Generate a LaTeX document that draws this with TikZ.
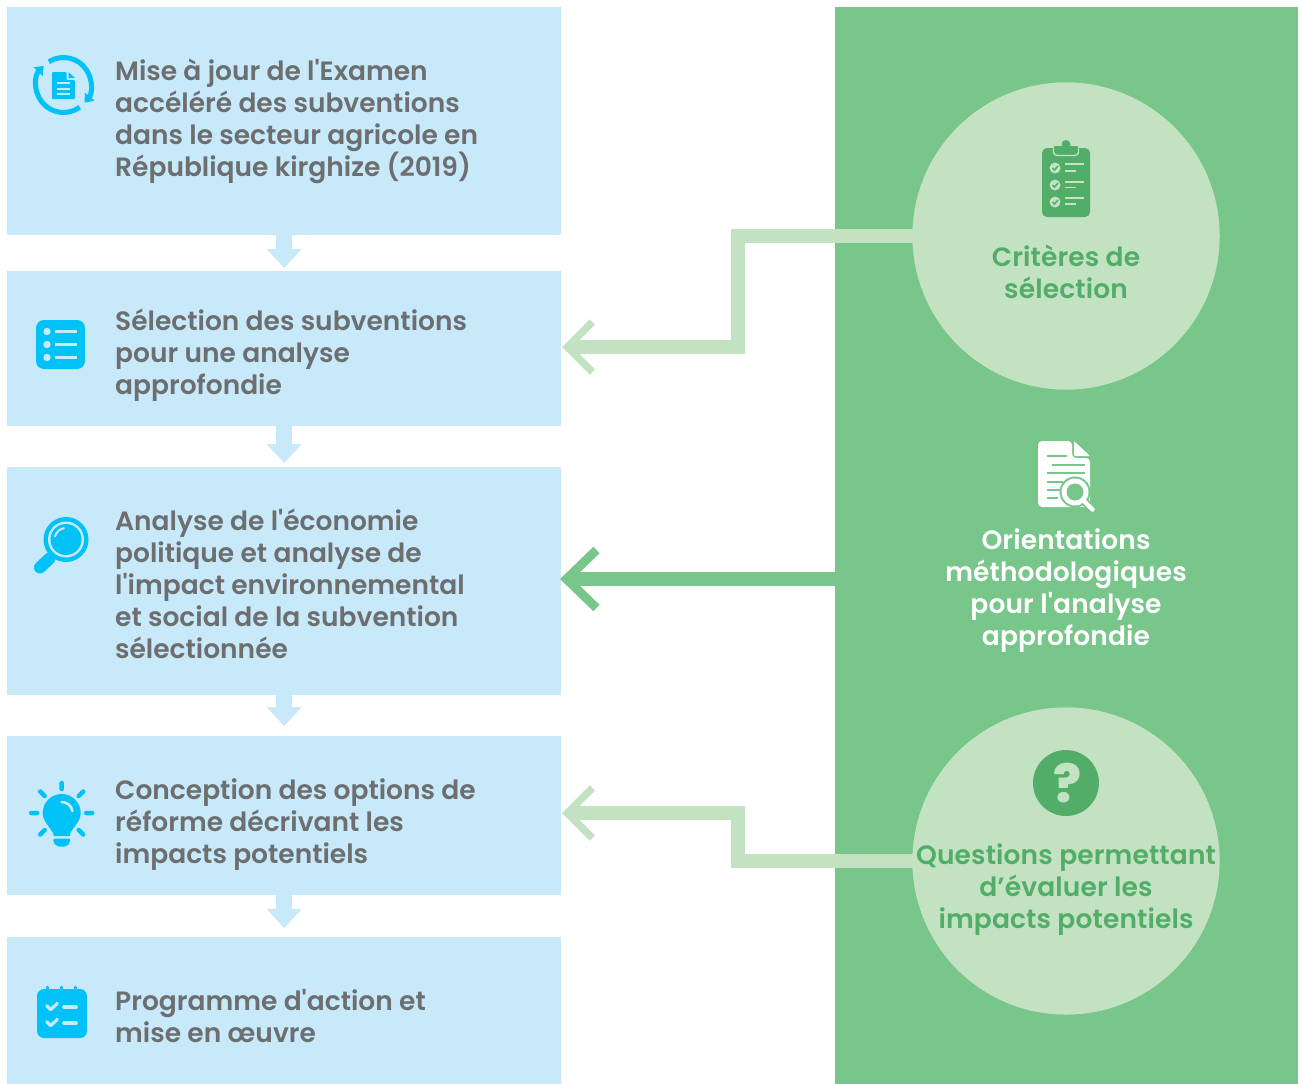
\documentclass[tikz,border=0pt]{standalone}
\usepackage{fontspec}
\setmainfont{Poppins}[UprightFont={* Medium},BoldFont={* SemiBold},Ligatures=TeXOff]
\newfontfamily\rfont{Poppins SemiBold}[Ligatures=TeXOff,LetterSpace=0.5]
\newfontfamily\qfont{Poppins ExtraBold}
\usetikzlibrary{arrows.meta}
\definecolor{lblue}{HTML}{C7E9FA}
\definecolor{iblue}{HTML}{00C2F7}
\definecolor{lgreen}{HTML}{C3E2C2}
\definecolor{pgreen}{HTML}{78C689}
\definecolor{dgreen}{HTML}{52AD69}
\definecolor{tgrey}{HTML}{6D6E70}
\tikzset{
  x=1pt,y=1pt,
  stepbox/.style={fill=lblue,draw=none,minimum width=554pt,anchor=north west,inner sep=0pt},
  lab/.style={anchor=west,align=left,inner sep=0pt,text=tgrey,font=\bfseries\fontsize{26.5}{32}\selectfont},
  rlab/.style={align=center,inner sep=0pt,font=\rfont\fontsize{26.5}{32}\selectfont},
  disc/.style={circle,fill=lgreen,minimum size=307pt,inner sep=0pt},
  down/.style={line width=16pt,lblue,-{Triangle[width=34pt,length=19pt]}},
  elbow/.style={line width=13.5pt,lgreen,miter limit=10,-{Straight Barb[length=25pt,width=50pt,line width=7.5pt]}},
  direct/.style={line width=13.5pt,pgreen,-{Straight Barb[length=30pt,width=58pt,line width=9pt]}},
}
\begin{document}
\begin{tikzpicture}
\useasboundingbox (0,0) rectangle (1299,-1084);
\fill[white] (0,0) rectangle (1299,-1084);
% boxes
\node[stepbox,minimum height=228pt] (b1) at (7,-7) {};
\node[stepbox,minimum height=155pt] (b2) at (7,-271) {};
\node[stepbox,minimum height=228pt] (b3) at (7,-467) {};
\node[stepbox,minimum height=159pt] (b4) at (7,-736) {};
\node[stepbox,minimum height=147pt] (b5) at (7,-937) {};
% panel
\node[fill=pgreen,minimum width=463pt,minimum height=1077pt,anchor=north west,inner sep=0pt] (p) at (835,-7) {};
% down connectors
\draw[down,shorten >=3pt] (b1.south) -- (b2.north);
\draw[down,shorten >=4pt] (b2.south) -- (b3.north);
\draw[down,shorten >=10pt] (b3.south) -- (b4.north);
\draw[down,shorten >=9pt] (b4.south) -- (b5.north);
% discs
\node[disc] (c1) at (1066,-236) {};
\node[disc] (c3) at (1066,-861) {};
% side connectors
\coordinate (a1) at (562,-347);
\coordinate (k1) at (738,-300);
\coordinate (a2) at (560,-579);
\coordinate (a3) at (562,-813);
\coordinate (k3) at (738,-840);
\draw[elbow] (c1.center) -| (k1) |- (a1);
\draw[direct] (p.west |- a2) -- (a2);
\draw[elbow] (c3.center) -| (k3) |- (a3);
\fill[lgreen] (c1.center) circle (153.5);
\fill[lgreen] (c3.center) circle (153.5);
% texts
\node[lab] (t1) at (115,-121.6) {\strut Mise à jour de l'Examen\\accéléré des subventions\\dans le secteur agricole en\\République kirghize (2019)\strut};
\node[lab] (t2) at (115,-355.6) {\strut Sélection des subventions\\pour une analyse\\approfondie\strut};
\node[lab] (t3) at (115,-587.6) {\strut Analyse de l'économie\\politique et analyse de\\l'impact environnemental\\et social de la subvention\\sélectionnée\strut};
\node[lab] (t4) at (115,-824.6) {\strut Conception des options de\\réforme décrivant les\\impacts potentiels\strut};
\node[lab] (t5) at (115,-1019.6) {\strut Programme d'action et\\mise en œuvre\strut};
\node[rlab,text=dgreen] (r1) at (1066,-275.6) {\strut Critères de\\sélection\strut};
\node[rlab,text=white] (r2) at (1066,-590.6) {\strut Orientations\\méthodologiques\\pour l'analyse\\approfondie\strut};
\node[rlab,text=dgreen] (r3) at (1066,-889.6) {\strut Questions permettant\\d’évaluer les\\impacts potentiels\strut};
% icon 1: document with cycle
\begin{scope}[shift={(63.5,-85)}]
  \draw[iblue,line width=5pt,-{Triangle[width=12pt,length=8pt]}] (122:27.5) arc[start angle=122,end angle=-40,radius=27.5];
  \draw[iblue,line width=5pt,-{Triangle[width=12pt,length=8pt]}] (-54:27.5) arc[start angle=-54,end angle=-224,radius=27.5];
  \fill[iblue,rounded corners=1pt] (-11.5,13) -- (3,13) -- (3,5) -- (11.5,5) -- (11.5,-14) -- (-11.5,-14) -- cycle;
  \fill[iblue] (5,13) -- (11.5,7) -- (5,7) -- cycle;
  \foreach \yy in {2,-3.5,-9} \draw[lblue,line width=2pt] (-6.5,\yy) -- (6,\yy);
\end{scope}
% icon 2: list
\fill[iblue,rounded corners=8pt] (36,-320) rectangle (85,-369);
\foreach \yy in {-331.5,-344.5,-357.5} {
  \fill[lblue] (47,\yy) circle (3.7);
  \draw[lblue,line width=2.1pt] (55,\yy) -- (77,\yy);
}
% icon 3: magnifier
\begin{scope}[shift={(66,-539.5)}]
  \fill[iblue] (0,0) circle (22.5);
  \fill[lblue] (0,0) circle (18);
  \fill[iblue] (0,0) circle (15.5);
  \draw[lblue,line width=2pt,line cap=round] (-11,3) arc[start angle=165,end angle=100,radius=11.5];
  \draw[iblue,line width=4pt] (-13,-16) -- (-16,-19);
  \draw[iblue,line width=12pt,line cap=round] (-16.5,-19) -- (-26,-28);
\end{scope}
% icon 4: bulb
\begin{scope}[shift={(61.7,-813)}]
  \fill[iblue] (-8,-23) .. controls (-8,-17) and (-19,-10) .. (-19,0) arc[start angle=180,end angle=0,radius=19] .. controls (19,-10) and (8,-17) .. (8,-23) -- cycle;
  \fill[iblue,rounded corners=2pt] (-8.5,-25.5) -- (8.5,-25.5) -- (8.5,-29) -- (5,-33.5) -- (-5,-33.5) -- (-8.5,-29) -- cycle;
  \draw[lblue,line width=2.6pt,line cap=round] (0,11) arc[start angle=90,end angle=10,radius=11];
  \draw[iblue,line width=4.5pt,line cap=round]
    (0,30) -- (0,24) (-30.5,0) -- (-24.5,0) (30.5,0) -- (24.5,0)
    (-21.5,21.5) -- (-17,17) (21.5,21.5) -- (17,17)
    (-21.5,-21.5) -- (-17,-17) (21.5,-21.5) -- (17,-17);
\end{scope}
% icon 5: checklist
\foreach \xx in {47.5,61.7,75.5} \draw[iblue,line width=3pt,line cap=round] (\xx,-987) -- (\xx,-992);
\fill[iblue,rounded corners=7pt] (37,-989) rectangle (87,-1038);
\foreach \yy in {0,16} {
  \draw[lblue,line width=3.2pt,line cap=round,line join=round] (46.7,-1005.7-\yy) -- (50.7,-1009.7-\yy) -- (57.3,-1003.3-\yy);
  \draw[lblue,line width=3.6pt,line cap=round] (64,-1007-\yy) -- (76,-1007-\yy);
}
% icon 6: clipboard
\fill[dgreen,rounded corners=5pt] (1042,-148) rectangle (1090,-217);
\fill[dgreen] (1066,-144.5) circle (4.5);
\fill[dgreen,rounded corners=2pt] (1053.5,-146) rectangle (1078.5,-155);
\draw[lgreen,line width=1.3pt,rounded corners=3.5pt] (1053.5,-148) -- (1053.5,-155.5) -- (1078.5,-155.5) -- (1078.5,-148);
\foreach \yy/\a/\b in {168/164/171,185/182/187.5,202/198/204} {
  \fill[lgreen] (1055,-\yy) circle (5.5);
  \draw[dgreen,line width=1.5pt] (1052.5,-\yy) -- (1054.5,-\yy-2) -- (1058,-\yy+2);
  \draw[lgreen,line width=1.7pt] (1065,-\a) -- (1084,-\a);
  \draw[lgreen,line width=1.7pt] (1065,-\b) -- (1076,-\b);
}
% icon 7: document with magnifier
\fill[white,rounded corners=4pt] (1038,-441) -- (1072,-441) -- (1072,-458) -- (1090,-458) -- (1090,-507) -- (1038,-507) -- cycle;
\fill[white,rounded corners=1pt] (1074,-441) -- (1090,-456) -- (1074,-456) -- cycle;
\foreach \xa/\xb/\yy in {1047/1067/456,1052/1085/465,1047/1085/473,1047/1063/482,1047/1060/490,1047/1058/498}
  \draw[pgreen,line width=2.5pt] (\xa,-\yy) -- (\xb,-\yy);
\fill[pgreen] (1075,-492) circle (15.5);
\fill[white] (1075,-492) circle (13.5);
\fill[pgreen] (1075,-492) circle (8.5);
\draw[pgreen,line width=8pt] (1085,-502) -- (1094,-511);
\draw[white,line width=4.5pt,line cap=round] (1084.5,-501.5) -- (1092.5,-509.5);
% icon 8: question
\node[circle,fill=dgreen,minimum size=66pt,inner sep=0pt] (q) at (1066,-783) {};
\node[inner sep=0pt,text=lgreen,font=\qfont\fontsize{52}{52}\selectfont,xshift=1.5pt] (qm) at (q) {?};
\end{tikzpicture}
\end{document}
